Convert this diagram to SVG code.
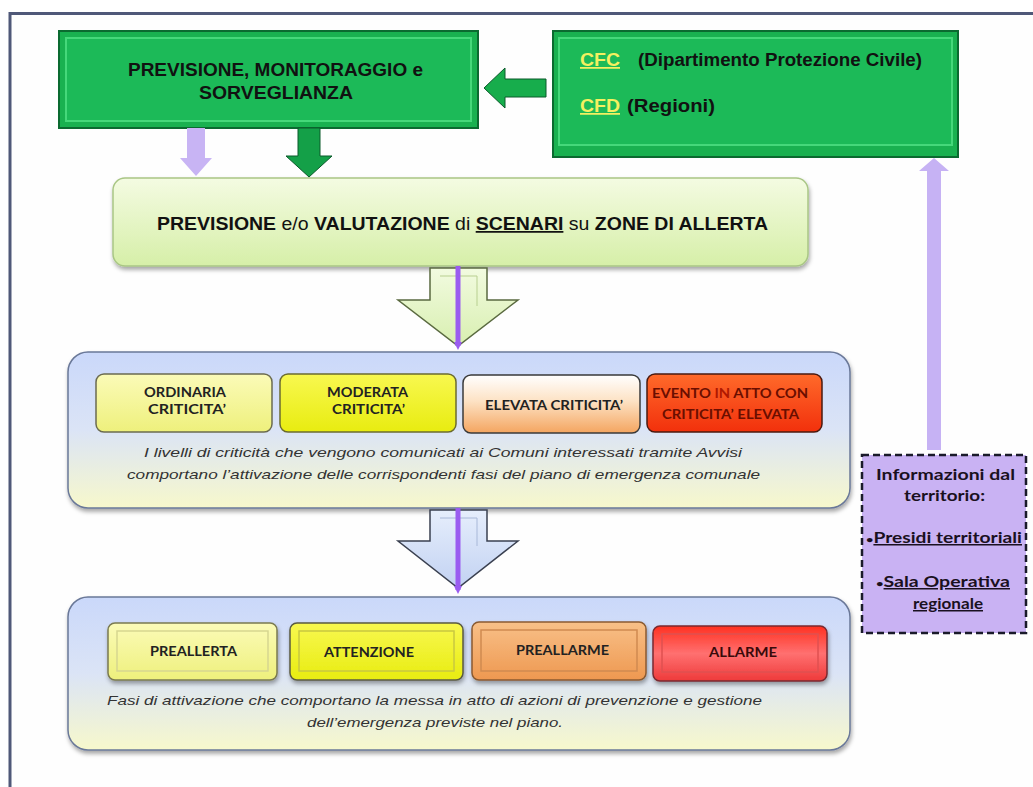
<svg xmlns="http://www.w3.org/2000/svg" width="1033" height="787" viewBox="0 0 1033 787">
<defs>
<style>
.t{font-family:"Liberation Sans",Arial,sans-serif;font-weight:bold;fill:#111;font-size:17.5px}
.c{font-family:Lato,"Liberation Sans",sans-serif;font-weight:bold;fill:#222;font-size:13px}
.i{font-family:Lato,"Liberation Sans",sans-serif;font-weight:bold;fill:#1a1020;font-size:15px}
.it{font-family:"Liberation Sans",Arial,sans-serif;font-style:italic;fill:#333;font-size:13.5px}
.y{fill:#f4f060}
.dr{fill:#6a0e00}
.g1{fill:#19b150;stroke:#0b6a30;stroke-width:2}
.g2{fill:#1cba58;stroke:#45d87a;stroke-width:2}
.bev{fill:none;stroke-width:1.5}
</style>
<linearGradient id="lg" x1="0" y1="0" x2="0" y2="1"><stop offset="0" stop-color="#f4fbe2"/><stop offset="1" stop-color="#d6efa8"/></linearGradient>
<linearGradient id="panel" x1="0" y1="0" x2="0" y2="1"><stop offset="0" stop-color="#cad8fa"/><stop offset="0.5" stop-color="#dbe4f6"/><stop offset="1" stop-color="#f7f8cc"/></linearGradient>
<linearGradient id="ly" x1="0" y1="0" x2="0" y2="1"><stop offset="0" stop-color="#fbfbb8"/><stop offset="1" stop-color="#eef07c"/></linearGradient>
<linearGradient id="yy" x1="0" y1="0" x2="0" y2="1"><stop offset="0" stop-color="#f8f850"/><stop offset="1" stop-color="#e8ec10"/></linearGradient>
<linearGradient id="wo" x1="0" y1="0" x2="0" y2="1"><stop offset="0" stop-color="#ffffff"/><stop offset="0.45" stop-color="#fde2c4"/><stop offset="1" stop-color="#f4a560"/></linearGradient>
<linearGradient id="rr" x1="0" y1="0" x2="0" y2="1"><stop offset="0" stop-color="#ff6a2a"/><stop offset="1" stop-color="#f2300c"/></linearGradient>
<linearGradient id="or" x1="0" y1="0" x2="0" y2="1"><stop offset="0" stop-color="#f8c088"/><stop offset="1" stop-color="#ee9850"/></linearGradient>
<linearGradient id="al" x1="0" y1="0" x2="0" y2="1"><stop offset="0" stop-color="#ff3020"/><stop offset="0.5" stop-color="#ff7070"/><stop offset="1" stop-color="#ee3a3a"/></linearGradient>
<linearGradient id="ha1" x1="0" y1="0" x2="0" y2="1"><stop offset="0" stop-color="#f2fbe0"/><stop offset="1" stop-color="#d8efb0"/></linearGradient>
<linearGradient id="ha2" x1="0" y1="0" x2="0" y2="1"><stop offset="0" stop-color="#e6eefc"/><stop offset="1" stop-color="#c2d2f2"/></linearGradient>
<filter id="sh" x="-5%" y="-10%" width="110%" height="130%"><feDropShadow dx="1" dy="3" stdDeviation="2" flood-color="#000" flood-opacity="0.35"/></filter>
<marker id="pm" markerWidth="8" markerHeight="8" refX="4" refY="4" orient="auto" markerUnits="userSpaceOnUse"><path d="M0,0 L8,4 L0,8 Z" fill="#9a5cf0"/></marker>
</defs>
<rect width="1033" height="787" fill="#ffffff"/>
<rect x="10" y="13.5" width="1040" height="800" fill="#fefefe" stroke="#4f5878" stroke-width="3"/>

<g id="n-previsione">
<rect class="g1" x="59" y="31" width="419" height="97"/>
<rect class="g2" x="66" y="38" width="405" height="83"/>
<text class="t" x="128" y="76" textLength="295" lengthAdjust="spacingAndGlyphs">PREVISIONE, MONITORAGGIO e</text>
<text class="t" x="199" y="99" textLength="154" lengthAdjust="spacingAndGlyphs">SORVEGLIANZA</text>
</g>

<g id="n-cfc">
<rect class="g1" x="553" y="31" width="405" height="126"/>
<rect class="g2" x="559" y="38" width="393" height="107"/>
<text class="t y" x="580" y="66" text-decoration="underline" textLength="40" lengthAdjust="spacingAndGlyphs">CFC</text>
<text class="t" x="638" y="66" textLength="284" lengthAdjust="spacingAndGlyphs">(Dipartimento Protezione Civile)</text>
<text class="t y" x="580" y="112" text-decoration="underline" textLength="40" lengthAdjust="spacingAndGlyphs">CFD</text>
<text class="t" x="627" y="112" textLength="88" lengthAdjust="spacingAndGlyphs">(Regioni)</text>
</g>

<g id="n-scenari">
<rect x="113" y="178" width="695" height="88" rx="12" fill="url(#lg)" stroke="#a9c685" stroke-width="1.5" filter="url(#sh)"/>
<text class="t" x="157" y="230" textLength="611" lengthAdjust="spacingAndGlyphs">PREVISIONE <tspan font-weight="normal">e/o</tspan> VALUTAZIONE <tspan font-weight="normal">di</tspan> <tspan text-decoration="underline">SCENARI</tspan> <tspan font-weight="normal">su</tspan> ZONE DI ALLERTA</text>
</g>

<g id="n-criticita">
<rect x="68" y="352" width="782" height="156" rx="20" fill="url(#panel)" stroke="#6a7898" stroke-width="1.5" filter="url(#sh)"/>
<rect x="96" y="374" width="176" height="58" rx="8" fill="url(#ly)" stroke="#6b6b50" stroke-width="1.5"/>
<text class="c" x="144" y="397" textLength="82" lengthAdjust="spacingAndGlyphs">ORDINARIA</text>
<text class="c" x="148" y="414" textLength="78" lengthAdjust="spacingAndGlyphs">CRITICITA’</text>
<rect x="280" y="374" width="176" height="58" rx="8" fill="url(#yy)" stroke="#6b6b30" stroke-width="1.5"/>
<text class="c" x="327" y="397" textLength="81" lengthAdjust="spacingAndGlyphs">MODERATA</text>
<text class="c" x="332" y="414" textLength="73" lengthAdjust="spacingAndGlyphs">CRITICITA’</text>
<rect x="463" y="375" width="177" height="58" rx="8" fill="url(#wo)" stroke="#3a3a3a" stroke-width="1.5"/>
<text class="c" x="485" y="410" textLength="138" lengthAdjust="spacingAndGlyphs">ELEVATA CRITICITA’</text>
<rect x="647" y="374" width="175" height="58" rx="8" fill="url(#rr)" stroke="#4a1a10" stroke-width="1.5"/>
<text class="c dr" x="652" y="398" textLength="156" lengthAdjust="spacingAndGlyphs">EVENTO <tspan fill="#b01800">IN</tspan> ATTO  CON</text>
<text class="c dr" x="662" y="419" textLength="137" lengthAdjust="spacingAndGlyphs">CRITICITA’ ELEVATA</text>
<text class="it" x="144" y="457" textLength="598" lengthAdjust="spacingAndGlyphs">I livelli di criticità che vengono comunicati ai Comuni  interessati  tramite Avvisi</text>
<text class="it" x="127" y="479" textLength="633" lengthAdjust="spacingAndGlyphs">comportano l’attivazione delle corrispondenti  fasi del piano di emergenza  comunale</text>
</g>

<g id="n-fasi">
<rect x="68" y="597" width="782" height="153" rx="20" fill="url(#panel)" stroke="#6a7898" stroke-width="1.5" filter="url(#sh)"/>
<rect x="108" y="623" width="169" height="57" rx="7" fill="url(#ly)" stroke="#7a7a50" stroke-width="1.5" filter="url(#sh)"/>
<rect x="117" y="631" width="151" height="40" class="bev" stroke="#d6d690"/>
<text class="c" x="150" y="656" textLength="87" lengthAdjust="spacingAndGlyphs">PREALLERTA</text>
<rect x="290" y="623" width="173" height="57" rx="7" fill="url(#yy)" stroke="#5a5a40" stroke-width="1.5" filter="url(#sh)"/>
<rect x="299" y="631" width="155" height="40" class="bev" stroke="#c8c840"/>
<text class="c" x="324" y="657" textLength="90" lengthAdjust="spacingAndGlyphs">ATTENZIONE</text>
<rect x="472" y="622" width="174" height="58" rx="7" fill="url(#or)" stroke="#8a5a30" stroke-width="1.5" filter="url(#sh)"/>
<rect x="481" y="630" width="156" height="41" class="bev" stroke="#d08a50"/>
<text class="c" x="516" y="655" textLength="93" lengthAdjust="spacingAndGlyphs">PREALLARME</text>
<rect x="653" y="626" width="174" height="55" rx="7" fill="url(#al)" stroke="#7a2a30" stroke-width="1.5" filter="url(#sh)"/>
<rect x="662" y="634" width="156" height="38" class="bev" stroke="#e05050"/>
<text class="c" x="709" y="657" style="fill:#3a0a0a" textLength="68" lengthAdjust="spacingAndGlyphs">ALLARME</text>
<text class="it" x="107" y="705" textLength="655" lengthAdjust="spacingAndGlyphs">Fasi di attivazione che comportano la messa in atto di azioni di prevenzione  e gestione</text>
<text class="it" x="307" y="727" textLength="256" lengthAdjust="spacingAndGlyphs">dell’emergenza  previste nel piano.</text>
</g>

<g id="n-info">
<rect x="862" y="455" width="164" height="178" fill="#c9b2f3" stroke="#1a1a2a" stroke-width="2.5" stroke-dasharray="7,4"/>
<text class="i" x="876" y="480" textLength="139" lengthAdjust="spacingAndGlyphs">Informazioni dal</text>
<text class="i" x="904" y="501" textLength="81" lengthAdjust="spacingAndGlyphs">territorio:</text>
<text class="i" x="866" y="543" textLength="156" lengthAdjust="spacingAndGlyphs"><tspan font-size="10">•</tspan><tspan text-decoration="underline">Presidi territoriali</tspan></text>
<text class="i" x="876" y="587" textLength="134" lengthAdjust="spacingAndGlyphs"><tspan font-size="10">•</tspan><tspan text-decoration="underline">Sala Operativa</tspan></text>
<text class="i" x="913" y="609" text-decoration="underline" textLength="70" lengthAdjust="spacingAndGlyphs">regionale</text>
</g>

<g id="connectors">
<path d="M546,79 L505,79 L505,68 L484,88 L505,108 L505,97 L546,97 Z" fill="#17ad4c" stroke="#0a5a2a" stroke-width="1"/>
<path d="M187,128 L205,128 L205,158 L212,158 L196,176 L180,158 L187,158 Z" fill="#c8b4f4"/>
<path d="M298,128 L320,128 L320,156 L332,156 L309,177 L286,156 L298,156 Z" fill="#14a048" stroke="#0a5a2a" stroke-width="1"/>
<path d="M927,450 L941,450 L941,171 L949,171 L934,158 L919,171 L927,171 Z" fill="#c6b2f4"/>
<path d="M430,268 L487,268 L487,300 L518,300 L458,346 L398,300 L430,300 Z" fill="url(#ha1)" stroke="#5a6a40" stroke-width="1.5"/>
<path d="M440,276 L477,276 L477,306" fill="none" stroke="#b8cf90" stroke-width="1"/>
<line x1="458" y1="266" x2="458" y2="346" stroke="#9a5cf0" stroke-width="5" marker-end="url(#pm)"/>
<path d="M430,510 L487,510 L487,541 L518,541 L458,588 L398,541 L430,541 Z" fill="url(#ha2)" stroke="#3a4050" stroke-width="1.5"/>
<path d="M440,518 L477,518 L477,546" fill="none" stroke="#a8b8d8" stroke-width="1"/>
<line x1="458" y1="508" x2="458" y2="590" stroke="#9a5cf0" stroke-width="5" marker-end="url(#pm)"/>
</g>
</svg>
